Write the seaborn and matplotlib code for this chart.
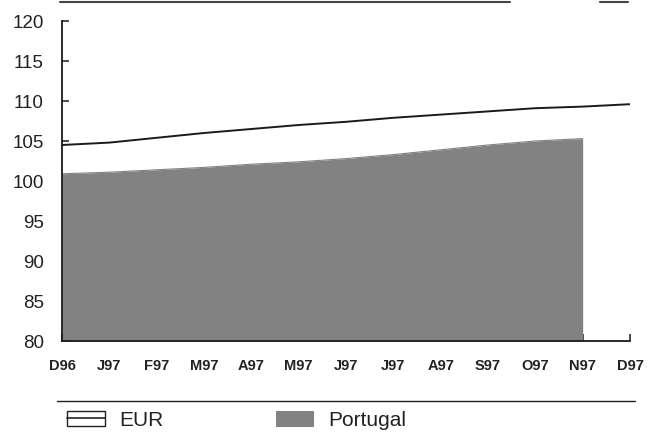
import matplotlib
matplotlib.use("Agg")
import matplotlib.pyplot as plt
import seaborn as sns
import pandas as pd
from matplotlib.lines import Line2D
from matplotlib.patches import Patch
from matplotlib.legend_handler import HandlerTuple

months = ["D96", "J97", "F97", "M97", "A97", "M97", "J97", "J97", "A97", "S97", "O97", "N97", "D97"]
eur = [104.5, 104.8, 105.4, 106.0, 106.5, 107.0, 107.4, 107.9, 108.3, 108.7, 109.1, 109.3, 109.6]
portugal = [100.9, 101.1, 101.4, 101.7, 102.1, 102.4, 102.8, 103.3, 103.9, 104.5, 105.0, 105.3]
yticks = [80, 85, 90, 95, 100, 105, 110, 115, 120]

sns.set_theme(style="white")
plt.rcParams['font.family'] = ['Liberation Sans', 'DejaVu Sans']

fig = plt.figure(figsize=(6.56, 4.34), dpi=100)
ax = fig.add_axes([62/656, 1-341/434, (630-62)/656, (341-21)/434])

df_e = pd.DataFrame({"x": range(len(eur)), "v": eur})
df_p = pd.DataFrame({"x": range(len(portugal)), "v": portugal})

ax.fill_between(df_p["x"], 80, df_p["v"], color="#828282", lw=0, zorder=1)
sns.lineplot(data=df_p, x="x", y="v", ax=ax, color="#828282", lw=0.8, zorder=2)
sns.lineplot(data=df_e, x="x", y="v", ax=ax, color="#1a1a1a", lw=1.4, zorder=3)

ax.set_xlim(0, len(months)-1)
ax.set_ylim(80, 120)
ax.set_xticks(range(len(months)))
ax.set_xticklabels(months, fontsize=10.5, fontweight="bold", color="#222222")
ax.set_yticks(yticks)
ax.set_yticklabels([str(t) for t in yticks], fontsize=13.5, color="#222222")
ax.set_xlabel("")
ax.set_ylabel("")
for s in ["top", "right"]:
    ax.spines[s].set_visible(False)
for s in ["left", "bottom"]:
    ax.spines[s].set_color("#1a1a1a")
    ax.spines[s].set_linewidth(1.3)
ax.tick_params(axis="both", direction="in", length=5, width=1.1, color="#1a1a1a", left=True, bottom=True)
ax.tick_params(axis="y", pad=13)
ax.tick_params(axis="x", pad=13)

# separator lines
fig.add_artist(Line2D([57/656, 635/656], [1-401/434, 1-401/434], color="#222222", lw=1.0))
fig.add_artist(Line2D([60/656, 510/656], [1-1.5/434, 1-1.5/434], color="#444444", lw=1.5))
fig.add_artist(Line2D([600/656, 628/656], [1-1.5/434, 1-1.5/434], color="#444444", lw=1.5))

# legend
h_eur = (Patch(facecolor="white", edgecolor="#222222", lw=1.0), Line2D([], [], color="#222222", lw=1.2))
h_por = Patch(facecolor="#828282", edgecolor="#666666", lw=0.5)
fig.legend([h_eur, h_por], ["EUR", "Portugal"], handler_map={tuple: HandlerTuple(ndivide=1, pad=0)},
           loc="center left", bbox_to_anchor=(67/656, 1-420/434), ncol=2, frameon=False,
           fontsize=15, handlelength=1.8, handleheight=0.75, columnspacing=5.4, handletextpad=0.7,
           labelcolor="#222222", borderpad=0, borderaxespad=0)

fig.savefig("out.png", dpi=100)
